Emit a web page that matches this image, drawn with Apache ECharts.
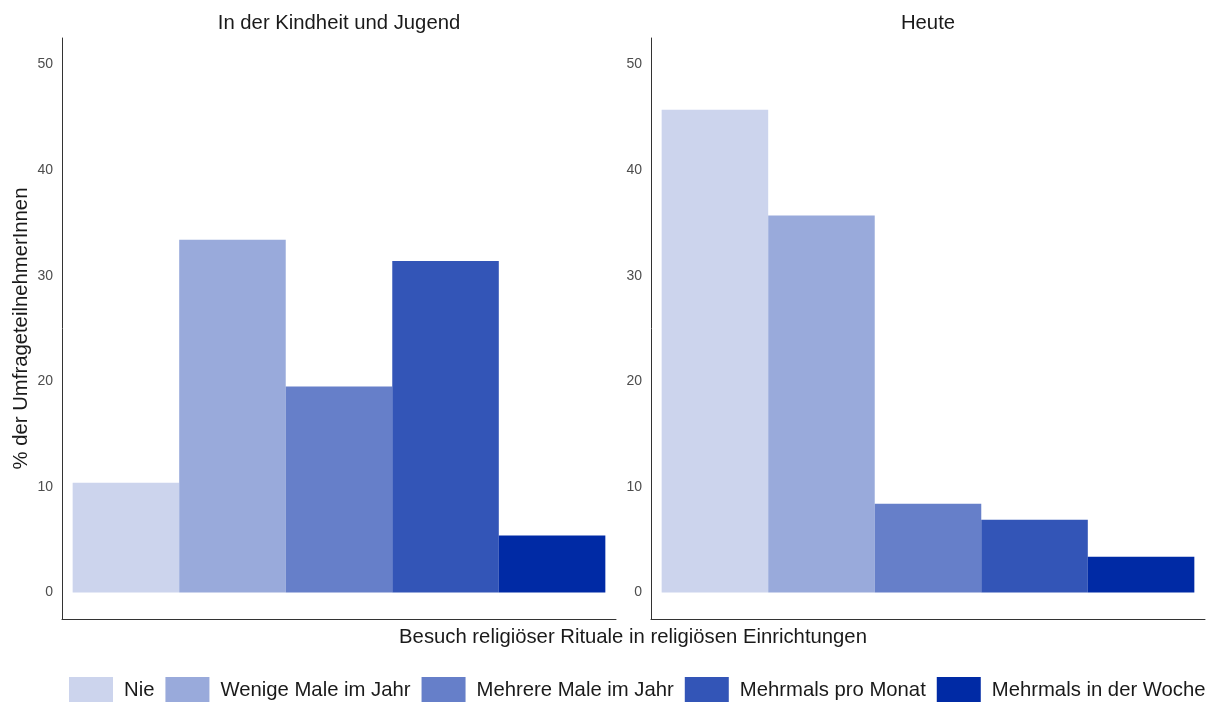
<!DOCTYPE html>
<html>
<head>
<meta charset="utf-8">
<script src="https://cdn.jsdelivr.net/npm/echarts@6/dist/echarts.min.js"></script>
<style>
  html, body { margin: 0; padding: 0; background: #fff; }
  #chart { width: 1215px; height: 702px; }
</style>
</head>
<body>
<div id="chart"></div>
<script>
// Kategorien und Werte (in %)
const categories = ['Nie', 'Wenige Male im Jahr', 'Mehrere Male im Jahr', 'Mehrmals pro Monat', 'Mehrmals in der Woche']
const kindheit = [10.4, 33.4, 19.5, 31.4, 5.4]
const heute = [45.7, 35.7, 8.4, 6.9, 3.4]
const yTicks = [0, 10, 20, 30, 40, 50]
const panelTitles = ['In der Kindheit und Jugend', 'Heute']
const colors = ['#ccd4ed', '#99aadb', '#667fc9', '#3355b7', '#002aa5']

const font = 'Liberation Sans, Arial, sans-serif'
const chart = echarts.init(document.getElementById('chart'))

function makeSeries (values, idx) {
  return categories.map((name, i) => ({
    name: name,
    type: 'bar',
    xAxisIndex: idx,
    yAxisIndex: idx,
    barWidth: '100%',
    barGap: '-100%',
    itemStyle: { color: colors[i] },
    emphasis: { disabled: true },
    data: [[i + 1, values[i]]]
  }))
}

function xAxisOpt (idx) {
  return {
    type: 'value',
    gridIndex: idx,
    min: 0.4,
    max: 5.6,
    axisLine: { show: true, onZero: false, lineStyle: { color: '#333', width: 1 } },
    axisTick: { show: false },
    axisLabel: { show: false },
    splitLine: { show: false }
  }
}

function yAxisOpt (idx) {
  return {
    type: 'value',
    gridIndex: idx,
    min: -2.5,
    max: 52.5,
    name: idx === 0 ? '% der UmfrageteilnehmerInnen' : '',
    nameLocation: 'middle',
    nameGap: 31,
    nameTextStyle: { color: '#1a1a1a', fontSize: 20.3, fontFamily: font },
    axisLine: { show: true, onZero: false, lineStyle: { color: '#333', width: 1 } },
    axisTick: { show: false },
    axisLabel: {
      customValues: yTicks,
      color: '#4d4d4d',
      fontSize: 14,
      fontFamily: font,
      margin: 9,
      padding: [3, 0, 0, 0]
    },
    splitLine: { show: false }
  }
}

const option = {
  backgroundColor: '#fff',
  animation: false,
  title: [
    {
      text: panelTitles[0], left: 339, top: 13, textAlign: 'center', padding: 0,
      textStyle: { color: '#1a1a1a', fontSize: 20.3, fontWeight: 'normal', fontFamily: font }
    },
    {
      text: panelTitles[1], left: 928, top: 13, textAlign: 'center', padding: 0,
      textStyle: { color: '#1a1a1a', fontSize: 20.3, fontWeight: 'normal', fontFamily: font }
    },
    {
      text: 'Besuch religiöser Rituale in religiösen Einrichtungen', left: 633, top: 627, textAlign: 'center', padding: 0,
      textStyle: { color: '#1a1a1a', fontSize: 20.3, fontWeight: 'normal', fontFamily: font }
    }
  ],
  legend: {
    data: categories,
    left: 64,
    top: 672,
    itemWidth: 44,
    itemHeight: 27,
    itemGap: 11,
    icon: 'rect',
    textStyle: { color: '#1a1a1a', fontSize: 20.3, fontFamily: font, padding: [0, 0, 0, 6] }
  },
  grid: [
    { left: 62, width: 554, top: 38, bottom: 83 },
    { left: 651, width: 554, top: 38, bottom: 83 }
  ],
  xAxis: [xAxisOpt(0), xAxisOpt(1)],
  yAxis: [yAxisOpt(0), yAxisOpt(1)],
  series: makeSeries(kindheit, 0).concat(makeSeries(heute, 1))
}

chart.setOption(option)
</script>
</body>
</html>
